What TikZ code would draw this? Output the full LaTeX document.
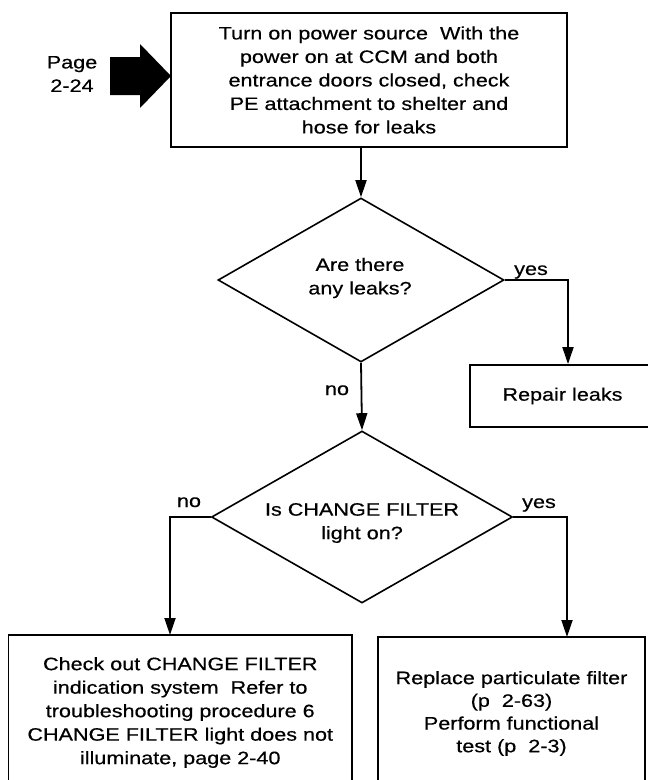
\documentclass[tikz,border=0pt]{standalone}
\usepackage{fontspec}
\setmainfont[FakeStretch=1.2,FakeBold=0.5]{Liberation Sans}
\usetikzlibrary{shapes.geometric,arrows.meta}
\begin{document}
\begin{tikzpicture}[x=1pt,y=-1pt,
  txt/.style={font=\fontsize{18}{23.5}\selectfont, align=center, inner sep=0pt},
  box/.style={draw, line width=1.8pt, inner sep=0pt, align=center, font=\fontsize{18}{23.5}\selectfont},
  dia/.style={draw, diamond, line width=1.6pt, inner sep=0pt},
  conn/.style={line width=1.8pt, -{Triangle[length=17pt,width=11pt]}},
  lbl/.style={font=\fontsize{18}{22}\selectfont, anchor=base, inner sep=0pt}]
\useasboundingbox (0,0) rectangle (648,780);

% entry arrow
\node[txt] (page) at (72,74) {Page\\2-24};
\fill (110,57) -- (140,57) -- (140,44) -- (171,76) -- (140,108) -- (140,95) -- (110,95) -- cycle;

% boxes
\node[box, minimum width=396pt, minimum height=134pt] (start) at (369,80)
  {Turn on power source\ \ With the\\power on at CCM and both\\entrance doors closed, check\\PE attachment to shelter and\\hose for leaks};
\node[box, minimum width=185pt, minimum height=62pt] (repair) at (562.5,396) {Repair leaks};
\node[box, minimum width=343.5pt, minimum height=155pt] (check) at (180.25,712.5)
  {Check out CHANGE FILTER\\indication system\ \ Refer to\\troubleshooting procedure 6\\CHANGE FILTER light does not\\illuminate, page 2-40};
\node[box, minimum width=267pt, minimum height=153pt, font=\fontsize{18}{22.7}\selectfont] (replace) at (511.5,713.5)
  {Replace particulate filter\\(p\ \ 2-63)\\Perform functional\\test (p\ \ 2-3)};

% decisions
\node[dia, minimum width=286pt, minimum height=164pt] (d1) at (361,280) {};
\node[txt] (d1t) at (360,278) {Are there\\any leaks?};
\node[dia, minimum width=301pt, minimum height=172pt] (d2) at (362,517) {};
\node[txt] (d2t) at (362,523) {Is CHANGE FILTER\\light on?};

% connectors
\draw[conn] (start.south -| d1.north) -- (d1.north);
\draw[conn] (d1.east) -| (repair.north -| 568,0);
\draw[conn] (d1.south) -- (d2.north);
\draw[conn] (d2.west) -| (170,635);
\draw[conn] (d2.east) -| (567,637);

% labels
\node[lbl] (yes1) at (531,275) {yes};
\node[lbl] (no1) at (337,395) {no};
\node[lbl] (no2) at (189,507) {no};
\node[lbl] (yes2) at (539,508) {yes};
\end{tikzpicture}
\end{document}
